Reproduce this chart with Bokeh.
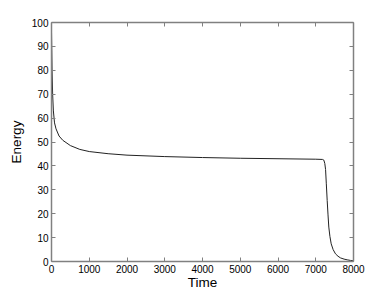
from bokeh.plotting import figure
from bokeh.models import Range1d, LinearAxis, FixedTicker
from bokeh.embed import file_html
from bokeh.resources import INLINE

# Data
time = [0, 15, 30, 50, 80, 120, 200, 300, 500, 750, 1000, 1500, 2000, 3000,
        4000, 5000, 6000, 7000, 7180, 7215, 7240, 7260, 7280, 7303, 7325,
        7346, 7375, 7409, 7460, 7523, 7590, 7656, 7750, 7833, 7920, 8000]
energy = [96, 80, 70, 63, 58, 55.5, 52.5, 50.7, 48.5, 46.9, 46.0, 45.1, 44.5,
          43.9, 43.5, 43.2, 43.0, 42.8, 42.7, 42.4, 41.0, 38.5, 32.5, 25.5,
          19.5, 14.4, 10.5, 7.4, 5.0, 3.2, 2.2, 1.5, 1.0, 0.7, 0.45, 0.3]

x_ticks = [0, 1000, 2000, 3000, 4000, 5000, 6000, 7000, 8000]
y_ticks = [0, 10, 20, 30, 40, 50, 60, 70, 80, 90, 100]

FONT = "Liberation Sans"
AXIS_COLOR = "#808080"

p = figure(width=390, height=294, output_backend="svg", toolbar_location=None,
           x_range=Range1d(0, 8000), y_range=Range1d(0, 100),
           min_border_left=51, min_border_right=37,
           min_border_top=22, min_border_bottom=33)
p.line(time, energy, line_color="#222222", line_width=1)

p.grid.visible = False
p.outline_line_color = None
p.background_fill_color = "white"
p.border_fill_color = "white"

p.add_layout(LinearAxis(), "right")
p.add_layout(LinearAxis(), "above")

for ax in p.xaxis:
    ax.ticker = FixedTicker(ticks=x_ticks)
for ax in p.yaxis:
    ax.ticker = FixedTicker(ticks=y_ticks)

for ax in p.axis:
    ax.major_tick_in = 4
    ax.major_tick_out = 0
    ax.minor_tick_line_color = None
    ax.axis_line_color = AXIS_COLOR
    ax.axis_line_width = 1.5
    ax.major_tick_line_color = AXIS_COLOR
    ax.major_tick_line_width = 1
    ax.major_label_text_font = FONT
    ax.major_label_text_font_size = "10px"
    ax.major_label_text_color = "#000000"
    ax.major_label_standoff = 3
    ax.axis_label_text_font = FONT
    ax.axis_label_text_font_style = "normal"
    ax.axis_label_text_font_size = "13.5px"
    ax.axis_label_text_color = "#000000"

# right / top axes only draw the box and ticks
p.right[0].major_label_overrides = {t: "" for t in y_ticks}
p.above[0].major_label_overrides = {t: "" for t in x_ticks}
p.right[0].major_label_standoff = 0
p.above[0].major_label_standoff = 0

p.below[0].axis_label = "Time"
p.below[0].axis_label_standoff = -1
p.left[0].axis_label = "Energy"
p.left[0].axis_label_standoff = 5

open("out.html", "w").write(file_html(p, INLINE))
